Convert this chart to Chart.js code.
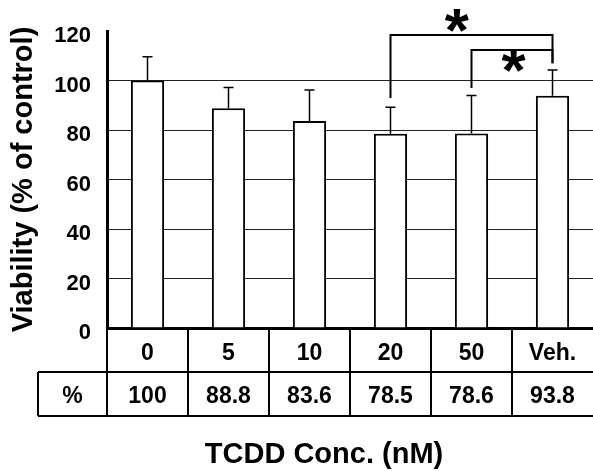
<!DOCTYPE html>
<html>
<head>
<meta charset="utf-8">
<script src="https://cdn.jsdelivr.net/npm/chart.js@4.4.0/dist/chart.umd.min.js"></script>
<style>
  body { margin: 0; background: #fff; }
  canvas { display: block; }
</style>
</head>
<body>
<canvas id="chart" width="593" height="471"></canvas>
<script>
const concLabels = ['0', '5', '10', '20', '50', 'Veh.'];
const viability = [100, 88.8, 83.6, 78.5, 78.6, 93.8];
const errorUp = [9.6, 8.4, 12.6, 10.7, 15.3, 10.4];
const yTicks = [0, 20, 40, 60, 80, 100, 120];

// significance brackets (values in % of control)
const sigFrom = ['20', '50'];
const sigTo = ['Veh.', 'Veh.'];
const sigTop = [118.4, 112.3];
const sigFromEnd = [92.9, 97];
const sigToEnd = [107, 107];

const FONT = '"Liberation Sans", Arial, Helvetica, sans-serif';

const extras = {
  id: 'extras',
  afterDraw(chart) {
    const { ctx, chartArea, scales: { x, y } } = chart;
    ctx.save();
    ctx.strokeStyle = '#000';
    ctx.fillStyle = '#000';

    // error bars (upper only)
    ctx.lineWidth = 1.5;
    viability.forEach((v, i) => {
      const cx = x.getPixelForValue(i);
      const y0 = y.getPixelForValue(v);
      const y1 = y.getPixelForValue(v + errorUp[i]);
      ctx.beginPath();
      ctx.moveTo(cx, y0);
      ctx.lineTo(cx, y1);
      ctx.moveTo(cx - 5, y1);
      ctx.lineTo(cx + 5, y1);
      ctx.stroke();
    });

    // significance brackets
    ctx.lineWidth = 2;
    ctx.font = 'bold 62px ' + FONT;
    ctx.textAlign = 'center';
    ctx.textBaseline = 'middle';
    sigFrom.forEach((f, i) => {
      const x1 = x.getPixelForValue(concLabels.indexOf(f));
      const x2 = x.getPixelForValue(concLabels.indexOf(sigTo[i]));
      const yt = y.getPixelForValue(sigTop[i]);
      ctx.beginPath();
      ctx.moveTo(x1, y.getPixelForValue(sigFromEnd[i]));
      ctx.lineTo(x1, yt);
      ctx.lineTo(x2, yt);
      ctx.lineTo(x2, y.getPixelForValue(sigToEnd[i]));
      ctx.stroke();
      const sx = i === 0 ? x1 + (x2 - x1) * 0.41 : x1 + (x2 - x1) * 0.52;
      const sy = i === 0 ? yt - 13 : yt + 12;
      ctx.fillText('*', sx, sy + 12);
    });

    // table under the axis
    const top = chartArea.bottom;
    const rowH = 44;
    const tableLeft = 38;
    const right = chartArea.right;
    const half = (x.getPixelForValue(1) - x.getPixelForValue(0)) / 2;
    const bounds = concLabels.map((c, i) => x.getPixelForValue(i) - half);
    ctx.lineWidth = 2;
    ctx.beginPath();
    bounds.forEach((bx) => {
      ctx.moveTo(bx, top);
      ctx.lineTo(bx, top + rowH * 2);
    });
    ctx.moveTo(tableLeft, top + rowH);
    ctx.lineTo(right, top + rowH);
    ctx.moveTo(tableLeft, top + rowH * 2);
    ctx.lineTo(right, top + rowH * 2);
    ctx.moveTo(tableLeft, top + rowH);
    ctx.lineTo(tableLeft, top + rowH * 2);
    ctx.stroke();

    ctx.font = 'bold 23px ' + FONT;
    ctx.textBaseline = 'middle';
    const rowY = top + rowH * 1.5 + 3;
    ctx.fillText('%', (tableLeft + bounds[0]) / 2, rowY);
    viability.forEach((v, i) => {
      ctx.fillText(String(v), x.getPixelForValue(i), rowY);
    });

    ctx.font = 'bold 29px ' + FONT;
    ctx.fillText('TCDD Conc. (nM)', 324, 455);
    ctx.restore();
  }
};

new Chart(document.getElementById('chart'), {
  type: 'bar',
  data: {
    labels: concLabels,
    datasets: [{
      data: viability,
      backgroundColor: '#fff',
      borderColor: '#000',
      borderWidth: 2,
      barPercentage: 0.41,
      categoryPercentage: 1
    }]
  },
  options: {
    responsive: false,
    animation: false,
    layout: { padding: { top: 31, left: 0, right: 0, bottom: 0 } },
    plugins: {
      legend: { display: false },
      tooltip: { enabled: false }
    },
    scales: {
      x: {
        grid: { display: false },
        border: { display: true, color: '#000', width: 3 },
        ticks: {
          color: '#000',
          padding: 4,
          font: { family: FONT, size: 23, weight: 'bold' }
        },
        afterFit: (scale) => { scale.height = 143; }
      },
      y: {
        min: 0,
        max: 120,
        afterBuildTicks: (scale) => { scale.ticks = yTicks.map((v) => ({ value: v })); },
        grid: {
          drawTicks: false,
          lineWidth: 1,
          color: (c) => (c.tick && (c.tick.value === 0 || c.tick.value === 120) ? 'rgba(0,0,0,0)' : '#222')
        },
        border: { display: true, color: '#000', width: 3 },
        ticks: {
          color: '#000',
          padding: 16,
          labelOffset: 5,
          font: { family: FONT, size: 22, weight: 'bold' }
        },
        title: {
          display: true,
          text: 'Viability (% of control)',
          color: '#000',
          padding: { top: 7, bottom: 0 },
          font: { family: FONT, size: 29, weight: 'bold' }
        },
        afterFit: (scale) => { scale.width = 107; }
      }
    }
  },
  plugins: [extras]
});
</script>
</body>
</html>
